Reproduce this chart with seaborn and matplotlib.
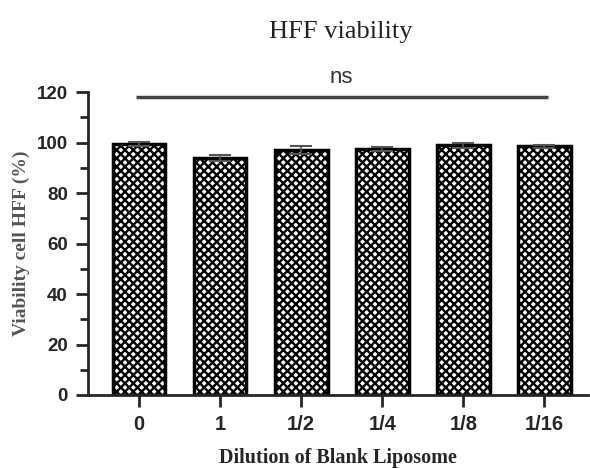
import matplotlib
matplotlib.use("Agg")
import matplotlib.pyplot as plt
import seaborn as sns
import pandas as pd
import numpy as np

categories = ["0", "1", "1/2", "1/4", "1/8", "1/16"]
viability = [99.5, 94.0, 97.0, 97.5, 99.0, 98.5]
errors = [0.8, 1.2, 1.5, 0.9, 1.0, 0.6]

sns.set_theme(style="ticks")
plt.rcParams['hatch.linewidth'] = 1.7
plt.rcParams['font.family'] = ['Liberation Sans', 'DejaVu Sans']

df = pd.DataFrame({"dilution": categories, "viability": viability})

fig = plt.figure(figsize=(5.9, 4.68), dpi=100)
ax = fig.add_axes([0.149, 0.156, 0.848, 0.647])

sns.barplot(data=df, x="dilution", y="viability", ax=ax, color="white",
            edgecolor="black", linewidth=2.5, width=0.65, errorbar=None)
for p in ax.patches:
    p.set_hatch("xxxx")

ax.errorbar(np.arange(len(categories)), viability, yerr=errors, fmt="none",
            ecolor="#555555", elinewidth=1.2, capsize=8, capthick=1.5)

ax.set_xlim(-0.63, 5.54)
ax.set_ylim(0, 120)
ax.set_yticks(np.arange(0, 121, 20))
ax.set_yticks(np.arange(0, 121, 10), minor=True)
ax.tick_params(axis="both", width=2, length=8.5, labelsize=13.5, pad=6)
ax.tick_params(axis="x", pad=6, labelsize=14.5)
ax.tick_params(axis="y", which="minor", width=2, length=5.5)
for lab in ax.get_xticklabels() + ax.get_yticklabels():
    lab.set_fontweight("bold")
for s in ["top", "right"]:
    ax.spines[s].set_visible(False)
for s in ["left", "bottom"]:
    ax.spines[s].set_linewidth(2)

ax.set_xlabel("Dilution of Blank Liposome", family="Liberation Serif",
              fontweight="bold", fontsize=14.5, labelpad=10)
ax.set_ylabel("Viability cell HFF (%)", family="Liberation Serif",
              fontweight="bold", fontsize=14, color="#555555", labelpad=5)

# significance line
ax.plot([-0.04, 5.04], [118, 118], color="#444444", lw=2.5, solid_capstyle="butt")
ax.text(2.5, 121.5, "ns", ha="center", va="bottom", fontsize=16,
        color="#333333", clip_on=False)

fig.text(0.577, 0.932, "HFF viability", family="Liberation Serif",
         fontsize=19, ha="center", va="center", color="#222222")

fig.savefig("out.png", dpi=100)
